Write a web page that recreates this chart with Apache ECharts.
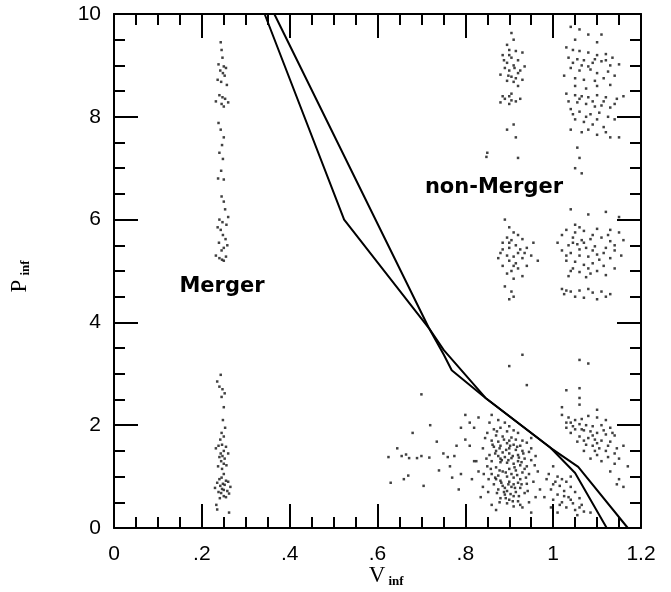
<!DOCTYPE html>
<html><head><meta charset="utf-8">
<script src="https://cdn.jsdelivr.net/npm/echarts@6/dist/echarts.min.js"></script>
<style>html,body{margin:0;padding:0;background:#fff}#c{width:671px;height:592px}</style>
</head><body><div id="c"></div>
<script>
const xTickLabels = ['0', '.2', '.4', '.6', '.8', '1', '1.2'];
const yTickLabels = ['0', '2', '4', '6', '8', '10'];

const curveA = [[0.343,10],[0.524,6.0],[0.717,3.89],[0.751,3.37],[0.769,3.07],[0.846,2.53],[0.994,1.56],[1.05,1.07],[1.122,0]];
const curveB = [[0.365,10],[0.717,3.89],[0.751,3.46],[0.846,2.53],[0.994,1.56],[1.057,1.19],[1.17,0]];

const mergerUpper = [[0.243,9.45],[0.245,9.3],[0.247,9.15],[0.238,9.02],[0.25,8.98],[0.255,8.95],[0.242,8.9],[0.248,8.85],[0.252,8.8],[0.236,8.72],[0.244,8.68],[0.257,8.62],[0.24,8.42],[0.247,8.38],[0.253,8.35],[0.232,8.3],[0.26,8.28],[0.245,8.25],[0.25,8.2],[0.238,7.88],[0.243,7.75],[0.25,7.6],[0.246,7.45],[0.24,7.3],[0.248,7.18],[0.244,6.95],[0.237,6.8],[0.25,6.78],[0.245,6.45],[0.25,6.35],[0.253,6.2],[0.24,6.0],[0.247,5.95],[0.236,5.85],[0.256,5.9],[0.243,5.8],[0.248,5.7],[0.254,5.62],[0.239,5.55],[0.25,5.45],[0.245,5.4],[0.232,5.3],[0.24,5.25],[0.246,5.22],[0.25,5.2],[0.255,5.28],[0.26,6.05],[0.258,5.5]];
const mergerLower = [[0.243,2.98],[0.235,2.85],[0.24,2.75],[0.247,2.7],[0.252,2.62],[0.245,2.55],[0.25,2.35],[0.248,2.1],[0.253,1.95],[0.245,1.85],[0.25,1.78],[0.242,1.72],[0.238,1.6],[0.246,1.62],[0.255,1.58],[0.232,1.55],[0.25,1.5],[0.243,1.45],[0.247,1.4],[0.26,1.45],[0.24,1.38],[0.252,1.35],[0.244,1.3],[0.25,1.25],[0.237,1.2],[0.256,1.22],[0.246,1.15],[0.25,1.05],[0.245,0.98],[0.24,0.95],[0.255,0.92],[0.26,0.9],[0.235,0.88],[0.248,0.86],[0.252,0.84],[0.242,0.82],[0.265,0.8],[0.23,0.78],[0.246,0.76],[0.25,0.74],[0.258,0.72],[0.238,0.7],[0.244,0.68],[0.262,0.67],[0.25,0.62],[0.255,0.6],[0.241,0.58],[0.233,0.45],[0.235,0.36],[0.262,0.3]];
const middleSparse = [[0.63,0.88],[0.625,1.38],[0.655,1.4],[0.665,1.43],[0.672,1.36],[0.69,1.36],[0.7,1.4],[0.718,1.37],[0.735,1.68],[0.72,2.0],[0.68,1.85],[0.66,0.95],[0.67,1.02],[0.705,0.82],[0.75,1.45],[0.76,1.38],[0.775,1.4],[0.78,1.6],[0.765,1.2],[0.79,1.05],[0.8,1.72],[0.79,1.95],[0.81,2.05],[0.8,2.2],[0.7,2.6],[0.74,1.12],[0.645,1.55],[0.77,0.98],[0.82,1.3],[0.785,0.75]];
const nonMergerLowA = [[0.86,2.2],[0.875,2.1],[0.89,2.05],[0.9,1.98],[0.88,1.95],[0.865,1.92],[0.91,1.9],[0.92,1.85],[0.895,1.88],[0.85,1.85],[0.87,1.8],[0.885,1.78],[0.905,1.76],[0.915,1.72],[0.93,1.7],[0.94,1.66],[0.86,1.7],[0.875,1.68],[0.895,1.65],[0.91,1.62],[0.925,1.6],[0.88,1.6],[0.865,1.58],[0.84,1.55],[0.9,1.55],[0.915,1.52],[0.93,1.5],[0.945,1.48],[0.87,1.5],[0.885,1.47],[0.9,1.45],[0.92,1.42],[0.855,1.42],[0.875,1.4],[0.89,1.38],[0.905,1.36],[0.935,1.35],[0.95,1.32],[0.86,1.3],[0.88,1.28],[0.895,1.27],[0.91,1.25],[0.925,1.22],[0.94,1.2],[0.87,1.18],[0.9,1.15],[0.915,1.12],[0.885,1.1],[0.93,1.08],[0.945,1.05],[0.86,1.05],[0.875,1.02],[0.895,1.0],[0.91,0.98],[0.925,0.95],[0.88,0.92],[0.9,0.9],[0.92,0.88],[0.94,0.86],[0.865,0.85],[0.885,0.82],[0.905,0.8],[0.925,0.78],[0.875,0.75],[0.895,0.72],[0.915,0.7],[0.935,0.68],[0.89,0.65],[0.91,0.62],[0.88,0.58],[0.9,0.55],[0.92,0.52],[0.895,0.48],[0.91,0.42],[0.93,0.4],[0.87,0.35],[0.95,0.3],[0.82,1.95],[0.81,1.6],[0.825,1.3],[0.83,1.1],[0.815,0.95],[0.84,0.8],[0.835,0.6],[0.845,1.75],[0.855,2.05],[0.83,2.15],[0.96,1.4],[0.965,1.1],[0.955,0.9],[0.96,0.6],[0.945,0.5],[0.86,0.45],[0.85,1.2],[0.9,1.7],[0.92,1.3],[0.88,1.35],[0.87,0.95],[0.905,1.05],[0.935,1.15],[0.89,0.78],[0.91,0.85],[0.95,1.75],[0.97,0.75],
  [0.872,1.88],[0.888,1.72],[0.902,1.6],[0.918,1.58],[0.932,1.45],[0.862,1.62],[0.878,1.55],[0.893,1.52],[0.908,1.4],[0.922,1.37],[0.868,1.45],[0.883,1.32],[0.898,1.32],[0.912,1.18],[0.928,1.28],[0.858,1.15],[0.878,1.12],[0.892,1.08],[0.918,1.03],[0.938,0.98],[0.868,0.98],[0.882,0.88],[0.898,0.85],[0.913,0.78],[0.928,0.85],[0.872,0.68],[0.888,0.7],[0.903,0.66],[0.922,0.62],[0.942,0.72],[0.878,0.5],[0.892,0.58],[0.908,0.52],[0.925,0.45],[0.853,0.95],[0.848,1.35],[0.842,1.05],[0.852,0.7],[0.958,1.22],[0.95,1.55]];
const nonMergerLowB = [[1.02,2.2],[1.035,2.15],[1.05,2.1],[1.065,2.12],[1.08,2.18],[1.1,2.15],[1.12,2.1],[1.04,2.05],[1.06,2.02],[1.075,2.0],[1.09,1.98],[1.11,2.0],[1.13,1.95],[1.03,1.95],[1.05,1.92],[1.07,1.9],[1.085,1.88],[1.1,1.85],[1.12,1.82],[1.14,1.8],[1.04,1.85],[1.06,1.78],[1.08,1.75],[1.095,1.72],[1.11,1.7],[1.13,1.68],[1.055,1.68],[1.075,1.62],[1.09,1.6],[1.105,1.55],[1.12,1.5],[1.145,1.55],[1.07,1.5],[1.1,1.42],[1.125,1.38],[1.15,1.35],[1.085,1.35],[1.11,1.3],[1.14,1.25],[1.16,1.6],[1.13,1.1],[1.15,0.95],[1.16,0.8],[1.17,1.2],[1.145,0.85],[1.02,2.35],[1.06,2.4],[1.1,2.3],
  [1.03,2.05],[1.045,1.98],[1.065,1.92],[1.09,1.8],[1.115,1.9],[1.135,1.85],[1.07,1.7],[1.1,1.65],[1.125,1.6],[1.095,1.5],[1.14,1.45]];
const nonMergerLowC = [[0.99,1.05],[1.0,1.2],[1.01,1.0],[1.02,0.95],[1.03,0.9],[1.0,0.85],[1.015,0.82],[1.04,0.8],[0.995,0.75],[1.025,0.72],[1.05,0.7],[1.01,0.65],[1.035,0.6],[1.06,0.58],[1.0,0.55],[1.02,0.5],[1.045,0.48],[1.065,0.45],[1.03,0.4],[1.05,0.35],[1.01,0.3],[1.07,0.32],[0.985,0.95],[1.04,1.0],[0.98,0.6],[1.055,0.25],[1.085,0.3],
  [1.005,0.9],[1.025,0.62],[1.04,0.55],[1.015,0.45],[1.06,0.4],[0.995,0.4]];
const nonMergerSparse = [[0.93,3.37],[0.9,3.15],[0.94,2.78],[1.06,3.27],[1.08,3.2],[1.06,2.72],[1.03,2.68],[1.06,2.53]];
const nonMergerMidA = [[0.89,6.0],[0.9,5.85],[0.91,5.75],[0.92,5.7],[0.895,5.65],[0.905,5.6],[0.93,5.62],[0.885,5.55],[0.915,5.5],[0.9,5.45],[0.925,5.42],[0.94,5.45],[0.88,5.35],[0.895,5.3],[0.91,5.28],[0.93,5.25],[0.95,5.3],[0.965,5.2],[0.9,5.2],[0.915,5.15],[0.885,5.1],[0.92,5.05],[0.94,5.1],[0.905,5.0],[0.895,4.95],[0.93,4.9],[0.91,4.85],[0.89,4.7],[0.905,4.6],[0.91,4.5],[0.9,4.45],[0.875,5.25],[0.955,5.55],
  [0.9,5.55],[0.92,5.35],[0.885,5.42],[0.91,5.1],[0.935,5.35]];
const nonMergerMidB = [[1.04,6.2],[1.08,6.1],[1.12,6.15],[1.15,6.05],[1.06,5.85],[1.03,5.8],[1.05,5.75],[1.07,5.78],[1.1,5.82],[1.13,5.8],[1.15,5.75],[1.02,5.7],[1.045,5.65],[1.065,5.6],[1.085,5.62],[1.11,5.65],[1.13,5.58],[1.16,5.6],[1.01,5.55],[1.035,5.5],[1.055,5.52],[1.075,5.45],[1.095,5.48],[1.12,5.45],[1.14,5.4],[1.02,5.4],[1.04,5.35],[1.06,5.3],[1.08,5.28],[1.1,5.32],[1.13,5.25],[1.155,5.3],[1.03,5.2],[1.05,5.18],[1.07,5.12],[1.09,5.15],[1.115,5.1],[1.14,5.05],[1.045,5.05],[1.06,4.98],[1.085,4.95],[1.1,5.0],[1.035,4.9],[1.075,4.88],[1.12,4.92],[1.02,4.65],[1.04,4.6],[1.06,4.62],[1.09,4.58],[1.11,4.6],[1.13,4.55],[1.05,4.5],[1.07,4.48],[1.1,4.45],[1.025,4.55],
  [1.045,5.55],[1.07,5.55],[1.09,5.4],[1.115,5.35],[1.03,5.3],[1.06,5.42],[1.08,5.05],[1.105,5.22],[1.05,5.9],[1.09,5.7],[1.125,5.7],[1.14,5.5],[1.04,5.0],[1.03,4.62],[1.08,4.65],[1.12,4.5]];
const nonMergerTopA = [[0.905,9.63],[0.91,9.5],[0.895,9.4],[0.9,9.3],[0.915,9.28],[0.93,9.25],[0.885,9.2],[0.905,9.15],[0.92,9.1],[0.895,9.05],[0.91,9.0],[0.935,8.98],[0.89,8.95],[0.9,8.9],[0.92,8.85],[0.88,8.82],[0.905,8.78],[0.915,8.75],[0.93,8.72],[0.895,8.7],[0.91,8.68],[0.9,8.4],[0.89,8.35],[0.905,8.32],[0.915,8.3],[0.925,8.35],[0.88,8.28],[0.9,8.25],[0.91,7.85],[0.895,7.75],[0.915,7.6],[0.85,7.3],[0.848,7.22],[0.92,7.2],
  [0.9,9.2],[0.912,8.95],[0.888,9.1],[0.925,8.9],[0.898,8.8],[0.92,8.6],[0.905,8.45],[0.885,8.4]];
const nonMergerTopB = [[1.04,9.75],[1.06,9.7],[1.08,9.6],[1.05,9.5],[1.1,9.45],[1.03,9.35],[1.045,9.3],[1.06,9.28],[1.08,9.25],[1.1,9.2],[1.12,9.22],[1.035,9.15],[1.055,9.12],[1.07,9.1],[1.09,9.05],[1.11,9.08],[1.13,9.0],[1.15,9.02],[1.04,8.95],[1.06,8.9],[1.085,8.92],[1.1,8.85],[1.125,8.88],[1.14,8.8],[1.025,8.8],[1.05,8.75],[1.07,8.72],[1.095,8.7],[1.115,8.75],[1.03,8.45],[1.05,8.42],[1.065,8.4],[1.08,8.38],[1.1,8.42],[1.12,8.38],[1.145,8.35],[1.16,8.4],[1.035,8.3],[1.055,8.28],[1.075,8.25],[1.095,8.2],[1.11,8.22],[1.13,8.18],[1.04,8.15],[1.06,8.1],[1.085,8.05],[1.105,8.08],[1.125,8.0],[1.05,7.95],[1.07,7.9],[1.09,7.85],[1.115,7.8],[1.04,7.75],[1.065,7.7],[1.1,7.65],[1.13,7.6],[1.055,7.4],[1.06,7.2],[1.05,7.0],[1.065,6.9],[1.15,7.6],[1.11,9.6],
  [1.045,9.05],[1.065,9.0],[1.08,8.98],[1.095,9.12],[1.12,9.1],[1.135,9.15],[1.05,8.6],[1.075,8.55],[1.1,8.6],[1.13,8.62],[1.06,8.35],[1.09,8.3],[1.115,8.3],[1.14,8.25],[1.045,8.05],[1.075,8.0],[1.1,7.95],[1.14,7.95],[1.08,7.75],[1.12,7.7]];

const scatterGroups = [mergerUpper, mergerLower, middleSparse, nonMergerLowA, nonMergerLowB, nonMergerLowC, nonMergerSparse, nonMergerMidA, nonMergerMidB, nonMergerTopA, nonMergerTopB];

const chart = echarts.init(document.getElementById('c'), null, {renderer: 'canvas'});
const tickFont = {fontFamily: 'Liberation Sans, Arial, sans-serif', fontSize: 21, color: '#000'};
const lineStyle = {color: '#000', width: 2};

function xAxisCfg(pos, showLabel) {
  return {
    type: 'value', position: pos, min: 0, max: 1.2, interval: 0.2,
    axisLine: {show: true, onZero: false, lineStyle: lineStyle},
    axisTick: {show: true, inside: true, length: 24, lineStyle: lineStyle},
    minorTick: {show: true, splitNumber: 4, length: 11, lineStyle: lineStyle},
    splitLine: {show: false}, minorSplitLine: {show: false},
    axisLabel: Object.assign({show: showLabel, margin: 16,
      formatter: v => xTickLabels[Math.round(v / 0.2)]}, tickFont)
  };
}
function yAxisCfg(pos, showLabel) {
  return {
    type: 'value', position: pos, min: 0, max: 10, interval: 2,
    axisLine: {show: true, onZero: false, lineStyle: lineStyle},
    axisTick: {show: true, inside: true, length: 24, lineStyle: lineStyle},
    minorTick: {show: true, splitNumber: 4, length: 11, lineStyle: lineStyle},
    splitLine: {show: false}, minorSplitLine: {show: false},
    axisLabel: Object.assign({show: showLabel, margin: 13,
      formatter: v => yTickLabels[Math.round(v / 2)]}, tickFont)
  };
}

const series = scatterGroups.map(g => ({
  type: 'scatter', data: g, symbol: 'rect', symbolSize: 2.5,
  itemStyle: {color: '#111'}, silent: true, xAxisIndex: 0, yAxisIndex: 0
}));
[curveA, curveB].forEach(c => series.push({
  type: 'line', data: c, symbol: 'none', lineStyle: {color: '#000', width: 2},
  xAxisIndex: 0, yAxisIndex: 0, silent: true, z: 3
}));

const serif = 'Liberation Serif, Times New Roman, serif';
chart.setOption({
  animation: false,
  backgroundColor: '#fff',
  grid: {left: 114, right: 30, top: 14, bottom: 64},
  xAxis: [xAxisCfg('bottom', true), xAxisCfg('top', false)],
  yAxis: [yAxisCfg('left', true), yAxisCfg('right', false)],
  series: series,
  graphic: [
    {type: 'text', x: 222, y: 287, style: {text: 'Merger', fontFamily: 'DejaVu Sans, sans-serif', fontWeight: 'bold', fontSize: 21, fill: '#000', textAlign: 'center', textVerticalAlign: 'middle'}},
    {type: 'text', x: 494, y: 188, style: {text: 'non-Merger', fontFamily: 'DejaVu Sans, sans-serif', fontWeight: 'bold', fontSize: 21, fill: '#000', textAlign: 'center', textVerticalAlign: 'middle'}},
    {type: 'text', x: 377, y: 576, style: {text: 'V', fontFamily: serif, fontSize: 23, fill: '#000', textAlign: 'center', textVerticalAlign: 'middle'}},
    {type: 'text', x: 396, y: 582, style: {text: 'inf', fontFamily: serif, fontWeight: 'bold', fontSize: 13, fill: '#000', textAlign: 'center', textVerticalAlign: 'middle'}},
    {type: 'text', x: 20, y: 286, rotation: Math.PI / 2, style: {text: 'P', fontFamily: serif, fontSize: 23, fill: '#000', textAlign: 'center', textVerticalAlign: 'middle'}},
    {type: 'text', x: 26, y: 268, rotation: Math.PI / 2, style: {text: 'inf', fontFamily: serif, fontWeight: 'bold', fontSize: 13, fill: '#000', textAlign: 'center', textVerticalAlign: 'middle'}}
  ]
});
</script>
</body></html>
